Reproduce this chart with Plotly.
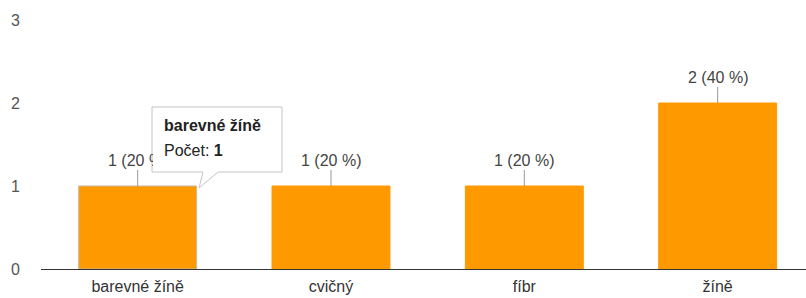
import plotly.graph_objects as go

categories = ["barevné žíně", "cvičný", "fíbr", "žíně"]
counts = [1, 1, 1, 2]
y_ticks = [0, 1, 2, 3]
tooltip_title = "barevné žíně"
tooltip_label = "Počet:"
tooltip_value = 1

total = sum(counts)
labels = [f"{c} ({round(100 * c / total)} %)" for c in counts]

W, H = 806, 298
ML, MR, MT, MB = 41, 0, 20, 29
PW, PH = W - ML - MR, H - MT - MB


def px(x):
    return (x - ML) / PW


def py(y):
    return (H - MB - y) / PH


FONT = "Liberation Sans, Arial, sans-serif"
BAR = "#FF9900"

fig = go.Figure()
fig.add_trace(go.Bar(
    x=categories, y=counts, width=0.61,
    marker=dict(color=BAR,
                line=dict(color=["#c8b8a0", BAR, BAR, BAR], width=1)),
    hoverinfo="skip",
))

shapes = []
annotations = []
for i, (c, v, t) in enumerate(zip(categories, counts, labels)):
    shapes.append(dict(type="line", xref="x", yref="y", x0=i, x1=i,
                       ysizemode="pixel", yanchor=v, y0=0, y1=16,
                       line=dict(color="#999999", width=1), layer="above"))
    annotations.append(dict(x=c, y=v, xref="x", yref="y", text=t,
                            showarrow=False, yshift=26, yanchor="middle",
                            font=dict(family=FONT, size=16, color="#444444")))

# tooltip outline with tail
bx0, bx1, by0, by1 = 152, 282, 107, 172
path = (f"M {px(bx0)},{py(by0)} L {px(bx1)},{py(by0)} L {px(bx1)},{py(by1)} "
        f"L {px(218)},{py(by1)} L {px(199)},{py(188)} L {px(203)},{py(by1)} "
        f"L {px(bx0)},{py(by1)} Z")
shapes.append(dict(type="path", xref="paper", yref="paper", path=path,
                   fillcolor="white", line=dict(color="#c4c4c4", width=1),
                   layer="above"))

annotations.append(dict(xref="paper", yref="paper", x=px(bx0 + 1), y=py(by0 + 1),
                        xanchor="left", yanchor="top", text=" ", showarrow=False,
                        width=bx1 - bx0 - 2, height=by1 - by0 - 2,
                        bgcolor="white", borderwidth=0, borderpad=0))
annotations.append(dict(xref="paper", yref="paper", x=px(162), y=py(125),
                        xanchor="left", yanchor="middle", showarrow=False,
                        text=f"<b>{tooltip_title}</b>",
                        font=dict(family=FONT, size=16, color="#222222")))
annotations.append(dict(xref="paper", yref="paper", x=px(162), y=py(150),
                        xanchor="left", yanchor="middle", showarrow=False,
                        text=f"{tooltip_label} <b>{tooltip_value}</b>",
                        font=dict(family=FONT, size=16, color="#222222")))

fig.update_layout(
    width=W, height=H,
    margin=dict(l=ML, r=MR, t=MT, b=MB, pad=0, autoexpand=False),
    paper_bgcolor="white", plot_bgcolor="white",
    showlegend=False,
    shapes=shapes, annotations=annotations,
    xaxis=dict(type="category", range=[-0.5, 3.457], showgrid=False,
               zeroline=False, showline=True, linecolor="#333333", linewidth=1,
               ticks="", automargin=False, ticklabelstandoff=3,
               tickfont=dict(family=FONT, size=16, color="#333333"),
               fixedrange=True),
    yaxis=dict(range=[0, 3], tickvals=y_ticks, showgrid=False, zeroline=False,
               showline=False, ticks="", ticklabelstandoff=20, automargin=False,
               tickfont=dict(family=FONT, size=16, color="#555555"),
               fixedrange=True),
)

fig.write_html("out.html",
               config={"displayModeBar": False},
               post_script="document.body.style.margin='0';document.body.style.overflow='hidden';")
